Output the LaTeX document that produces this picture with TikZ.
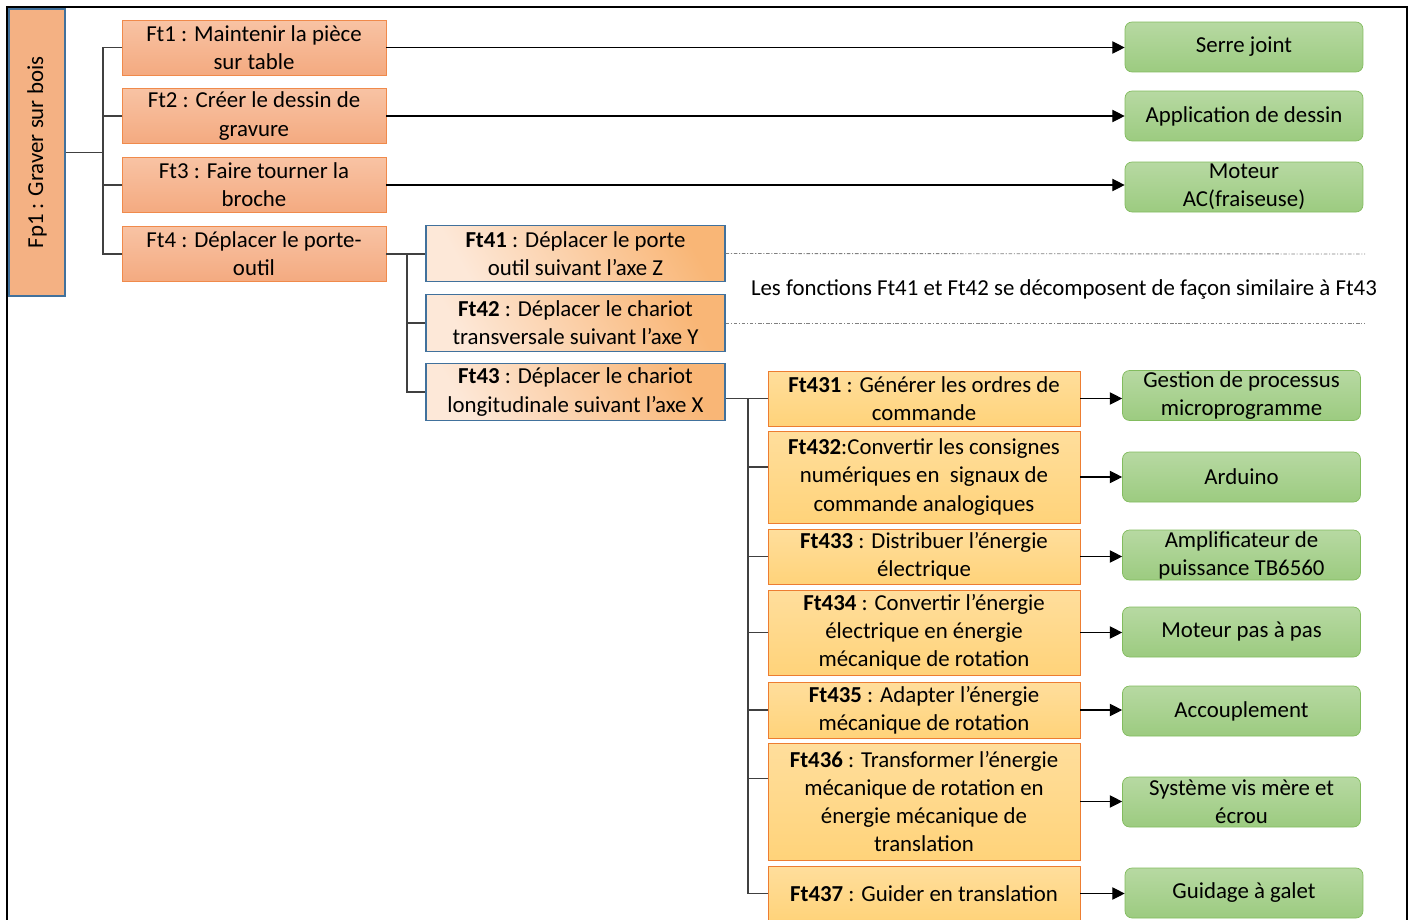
\documentclass[tikz,border=0pt]{standalone}
\usepackage{fontspec}
\setmainfont{Carlito}
\usetikzlibrary{arrows.meta, calc}
\definecolor{fpOrange}{HTML}{F4B183}
\definecolor{fpBlue}{HTML}{41719C}
\definecolor{ftEdge}{HTML}{F08A4B}
\definecolor{ftTop}{HTML}{F8C3A4}
\definecolor{ftBot}{HTML}{F4AA80}
\definecolor{subLight}{HTML}{FDE8D8}
\definecolor{subDark}{HTML}{F9B676}
\definecolor{leafEdge}{HTML}{ED7D31}
\definecolor{leafTop}{HTML}{FFDE9C}
\definecolor{leafBot}{HTML}{FFD37A}
\definecolor{solEdge}{HTML}{82BC5E}
\definecolor{solTop}{HTML}{B7D9A2}
\definecolor{solBot}{HTML}{9CCB80}
\definecolor{wire}{HTML}{404040}

\begin{document}
\begin{tikzpicture}[x=0.02cm, y=-0.02cm,
    font=\fontsize{13pt}{16pt}\selectfont,
    fpbox/.style={draw=fpBlue, thick, fill=fpOrange, rotate=90,
                  minimum width=5.74cm, minimum height=1.12cm, inner sep=0pt},
    ftbox/.style={draw=ftEdge, top color=ftTop, bottom color=ftBot,
                  minimum width=5.28cm, minimum height=1.1cm, align=center, inner sep=1pt},
    subbox/.style={draw=fpBlue, thick, top color=subDark, bottom color=subLight, shading angle=-60,
                   minimum width=5.98cm, minimum height=1.13cm, align=center, inner sep=1pt},
    leafbox/.style={draw=leafEdge, top color=leafTop, bottom color=leafBot,
                    minimum width=6.24cm, minimum height=#1, align=center, inner sep=1pt},
    leafbox/.default=1.1cm,
    solbox/.style={draw=solEdge, rounded corners=4pt, top color=solTop, bottom color=solBot,
                   minimum width=4.76cm, minimum height=1cm, align=center, inner sep=0pt},
    tree/.style={draw=wire, line width=0.6pt},
    link/.style={draw=black, line width=0.6pt, -{Triangle[length=7pt,width=7pt]}},
    hint/.style={draw=gray, line width=0.5pt, dash pattern=on 2pt off 1pt on 0.6pt off 1pt}
  ]
  \useasboundingbox (0,0) rectangle (1414,920);
  \draw[line width=1.1pt] (7,930) -- (7,7) -- (1407,7) -- (1407,930);

  % fonction principale
  \node[fpbox] (fp1) at (37,152.5) {Fp1 : Graver sur bois};

  % fonctions techniques
  \node[ftbox] (ft1) at (254,47.5) {Ft1 : Maintenir la pièce\\sur table};
  \node[ftbox] (ft2) at (254,116) {Ft2 : Créer le dessin de\\gravure};
  \node[ftbox] (ft3) at (254,185) {Ft3 : Faire tourner la\\broche};
  \node[ftbox] (ft4) at (254,254) {Ft4 : Déplacer le porte-\\outil};

  \node[solbox] (sol1) at (1244,47) {Serre joint};
  \node[solbox] (sol2) at (1244,116) {Application de dessin};
  \node[solbox] (sol3) at (1244,187) {Moteur\\AC(fraiseuse)};

  \node[subbox] (ft41) at (575.5,253.5) {\textbf{Ft41} : Déplacer le porte\\outil suivant l’axe Z};
  \node[subbox] (ft42) at (575.5,323) {\textbf{Ft42} : Déplacer le chariot\\transversale suivant l’axe Y};
  \node[subbox] (ft43) at (575.5,392) {\textbf{Ft43} : Déplacer le chariot\\longitudinale suivant l’axe X};

  \node (note) at (1064,289) {Les fonctions Ft41 et Ft42 se décomposent de façon similaire à Ft43};

  % decomposition de Ft43
  \node[leafbox] (ft431) at (924,398.5) {\textbf{Ft431} : Générer les ordres de\\commande};
  \node[leafbox=1.84cm] (ft432) at (924,477) {\textbf{Ft432}:Convertir les consignes\\numériques en~ signaux de\\commande analogiques};
  \node[leafbox] (ft433) at (924,556.5) {\textbf{Ft433} : Distribuer l’énergie\\électrique};
  \node[leafbox=1.7cm] (ft434) at (924,632.5) {\textbf{Ft434} : Convertir l’énergie\\électrique en énergie\\mécanique de rotation};
  \node[leafbox=1.12cm] (ft435) at (924,710) {\textbf{Ft435} : Adapter l’énergie\\mécanique de rotation};
  \node[leafbox=2.34cm] (ft436) at (924,801.5) {\textbf{Ft436} : Transformer l’énergie\\mécanique de rotation en\\énergie mécanique de\\translation};
  \node[leafbox] (ft437) at (924,893.5) {\textbf{Ft437} : Guider en translation};

  \node[solbox] (sol431) at (1241.5,395.5) {Gestion de processus\\microprogramme};
  \node[solbox] (sol432) at (1241.5,477) {Arduino};
  \node[solbox] (sol433) at (1241.5,555) {Amplificateur de\\puissance TB6560};
  \node[solbox] (sol434) at (1241.5,632) {Moteur pas à pas};
  \node[solbox] (sol435) at (1241.5,711) {Accouplement};
  \node[solbox] (sol436) at (1241.5,802) {Système vis mère et\\écrou};
  \node[solbox] (sol437) at (1244,893) {Guidage à galet};

  % arborescence
  \coordinate (bus1) at (103,152.5);
  \coordinate (bus2) at (407,254);
  \coordinate (bus3) at (748,398.5);
  \draw[tree] (fp1.south) -- (bus1);
  \draw[tree] (ft1.west) -- (ft1.west -| bus1) |- (ft4.west);
  \draw[tree] (ft2.west) -- (ft2.west -| bus1);
  \draw[tree] (ft3.west) -- (ft3.west -| bus1);
  \draw[tree] (ft4.east) -- (ft4.east -| ft41.west);
  \draw[tree] (bus2) |- (ft43.west);
  \draw[tree] (ft42.west) -- (ft42.west -| bus2);
  \draw[tree] (ft43.east |- ft431.west) -- (ft431.west);
  \draw[tree] (bus3) |- (ft437.west);
  \draw[tree] ([yshift=0.2cm]ft432.west) -- ([yshift=0.2cm]ft432.west -| bus3);
  \draw[tree] (ft433.west) -- (ft433.west -| bus3);
  \draw[tree] (ft434.west) -- (ft434.west -| bus3);
  \draw[tree] (ft435.west) -- (ft435.west -| bus3);
  \draw[tree] ([yshift=0.46cm]ft436.west) -- ([yshift=0.46cm]ft436.west -| bus3);

  % solutions
  \draw[link] (ft1.east) -- (ft1.east -| sol1.west);
  \draw[link] (ft2.east) -- (ft2.east -| sol2.west);
  \draw[link] (ft3.east) -- (ft3.east -| sol3.west);
  \foreach \n in {431,...,437}
    \draw[link] (ft\n.east) -- (ft\n.east -| sol\n.west);

  \coordinate (hintA) at (1365,254);
  \coordinate (hintB) at (1365,323);
  \draw[hint] (ft41.east) -- (hintA);
  \draw[hint] (ft42.east) -- (hintB);
\end{tikzpicture}
\end{document}
